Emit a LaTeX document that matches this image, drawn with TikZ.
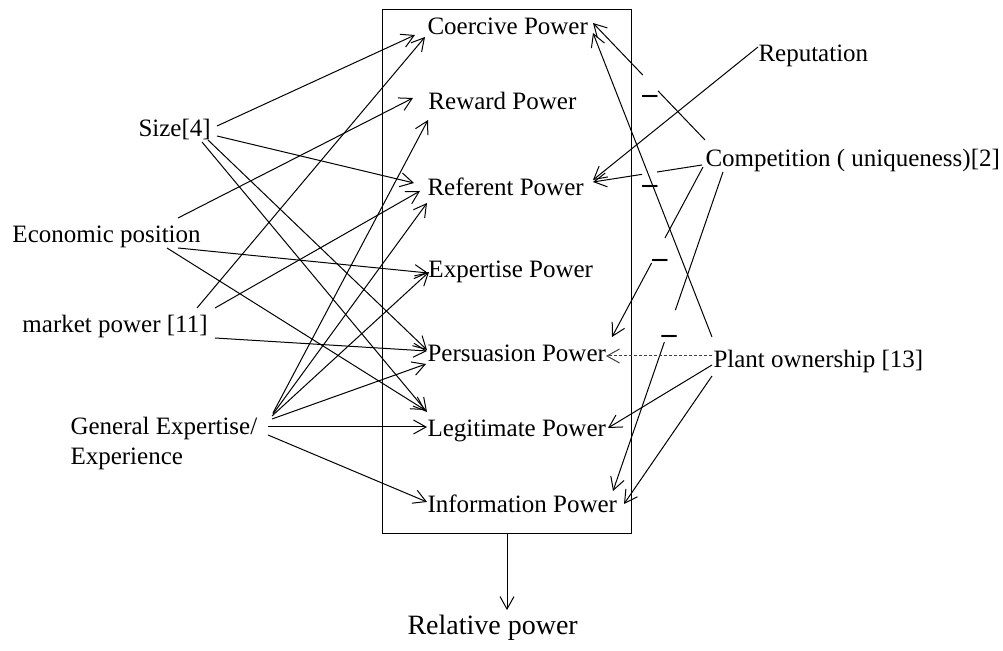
\documentclass[tikz,border=0pt]{standalone}
\usepackage{fontspec}
\setmainfont{Liberation Serif}
\usetikzlibrary{arrows.meta}
\begin{document}
\begin{tikzpicture}[x=0.4pt,y=-0.4pt,
  lbl/.style={anchor=base west, inner sep=0pt, font=\fontsize{10pt}{12pt}\selectfont},
  arr/.style={-{Straight Barb[length=5pt,width=5.6pt]}, line width=0.4pt},
  seg/.style={line width=0.4pt},
  dotarr/.style={arr, dash pattern=on 1.2pt off 0.8pt, draw=black!75},
  neg/.style={anchor=north, inner sep=0pt, font=\fontsize{12pt}{14pt}\selectfont\bfseries},
  framebox/.style={draw, line width=0.4pt, inner sep=0pt, anchor=north west,
    minimum width=99.6pt, minimum height=209.6pt}]
\useasboundingbox (0,0) rectangle (1003,651);

% frame around the power bases
\node[framebox] (box) at (382,9) {};

% power bases
\node[lbl] (coer) at (427,35)  {Coercive Power};
\node[lbl] (rew)  at (428,110) {Reward Power};
\node[lbl] (ref)  at (427,196) {Referent Power};
\node[lbl] (exp)  at (428,278) {Expertise Power};
\node[lbl] (pers) at (427,362) {Persuasion Power};
\node[lbl] (leg)  at (427,437) {Legitimate Power};
\node[lbl] (info) at (427,513) {Information Power};

% sources on the left
\node[lbl] (size) at (138,137) {Size[4]};
\node[lbl] (econ) at (12,243)  {Economic position};
\node[lbl] (mkt)  at (22,333)  {market power [11]};
\node[lbl] (gen)  at (70,435)  {General Expertise/};
\node[lbl] (genb) at (70,465)  {Experience};

% sources on the right
\node[lbl] (reput) at (758,62)  {Reputation};
\node[lbl] (comp)  at (705,167) {Competition ( uniqueness)[2]};
\node[lbl] (plant) at (713,368) {Plant ownership [13]};

% outcome
\node[lbl, font=\fontsize{11.2pt}{13pt}\selectfont] (rel) at (407,635) {Relative power};

% Size
\draw[arr] ([shift={(79,-11)}]size.base west) -- ([shift={(-12,0)}]coer.base west);
\draw[arr] ([shift={(79,-1)}]size.base west)  -- ([shift={(-13,-13)}]ref.base west);
\draw[arr] ([shift={(70,3)}]size.base west)   -- ([shift={(0,-12)}]pers.base west);
\draw[arr] ([shift={(64,5)}]size.base west)   -- ([shift={(0,-25)}]leg.base west);

% Economic position
\draw[arr] ([shift={(166,-25)}]econ.base west) -- ([shift={(-15,-12)}]rew.base west);
\draw[arr] ([shift={(166,5)}]econ.base west)   -- ([shift={(0,-5)}]exp.base west);
\draw[arr] ([shift={(155,5)}]econ.base west)   -- ([shift={(-2,-27)}]leg.base west);

% market power
\draw[arr] ([shift={(175,-25)}]mkt.base west) -- ([shift={(-2,2)}]coer.base west);
\draw[arr] ([shift={(193,-25)}]mkt.base west) -- ([shift={(-7,-5)}]ref.base west);
\draw[arr] ([shift={(193,5)}]mkt.base west)   -- ([shift={(0,-11)}]pers.base west);

% General expertise / experience
\draw[arr] ([shift={(203,-22)}]gen.base west) -- ([shift={(0,10)}]rew.base west);
\draw[arr] ([shift={(203,-21)}]gen.base west) -- ([shift={(0,7)}]ref.base west);
\draw[arr] ([shift={(202,-19)}]gen.base west) -- ([shift={(1,-6)}]exp.base west);
\draw[arr] ([shift={(202,-16)}]gen.base west) -- ([shift={(-1,2)}]pers.base west);
\draw[arr] ([shift={(198,-8)}]gen.base west)  -- ([shift={(0,-10)}]leg.base west);
\draw[arr] ([shift={(198,0)}]gen.base west)   -- ([shift={(0,-11)}]info.base west);

% Reputation
\draw[arr] ([shift={(0,-15)}]reput.base west) -- ([shift={(166,-16)}]ref.base west);

% Competition: negative links, broken where the minus sign sits
\path ([shift={(0,-27)}]comp.base west) coordinate (c1s)
   -- ([shift={(166,-12)}]coer.base west) coordinate (c1e)
      coordinate[pos=0.42] (c1a) coordinate[pos=0.555] (c1b);
\draw[seg] (c1s) -- (c1a);
\draw[arr] (c1b) -- (c1e);

\path ([shift={(-3,-2)}]comp.base west) coordinate (c2s)
   -- ([shift={(166,-14)}]ref.base west) coordinate (c2e)
      coordinate[pos=0.413] (c2a) coordinate[pos=0.55] (c2b);
\draw[seg] (c2s) -- (c2a);
\draw[arr] (c2b) -- (c2e);

\path ([shift={(-2,0)}]comp.base west) coordinate (c3s)
   -- ([shift={(185,-25)}]pers.base west) coordinate (c3e)
      coordinate[pos=0.418] (c3a) coordinate[pos=0.565] (c3b);
\draw[seg] (c3s) -- (c3a);
\draw[arr] (c3b) -- (c3e);

\path ([shift={(18,5)}]comp.base west) coordinate (c4s)
   -- ([shift={(186,-22)}]info.base west) coordinate (c4e)
      coordinate[pos=0.433] (c4a) coordinate[pos=0.533] (c4b);
\draw[seg] (c4s) -- (c4a);
\draw[arr] (c4b) -- (c4e);

\node[neg] (m1) at (650,95)  {–};
\node[neg] (m2) at (650,185) {–};
\node[neg] (m3) at (660,259) {–};
\node[neg] (m4) at (669,335) {–};

% Plant ownership
\draw[arr]    ([shift={(-1,-31)}]plant.base west) -- ([shift={(166,-2)}]coer.base west);
\draw[dotarr] ([shift={(-1,-12)}]plant.base west) -- ([shift={(179,-6)}]pers.base west);
\draw[arr]    ([shift={(-1,-3)}]plant.base west)  -- ([shift={(181,-9)}]leg.base west);
\draw[arr]    ([shift={(-1,8)}]plant.base west)   -- ([shift={(197,-9)}]info.base west);

% frame to outcome
\draw[arr] (box.south) -- ([yshift=2pt]box.south |- rel.north);
\end{tikzpicture}
\end{document}
